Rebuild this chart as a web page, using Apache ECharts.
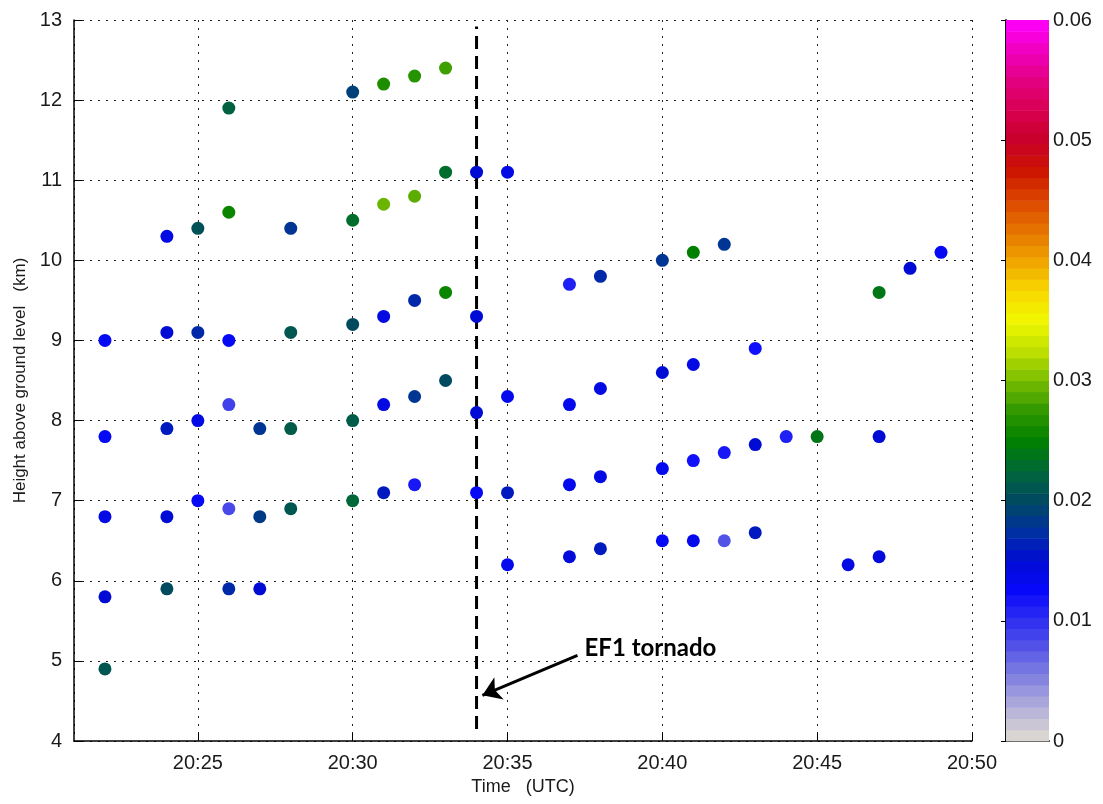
<!DOCTYPE html>
<html>
<head>
<meta charset="utf-8">
<script src="https://cdn.jsdelivr.net/npm/echarts@6/dist/echarts.min.js"></script>
<style>
html, body { margin: 0; padding: 0; background: #fff; }
#chart { width: 1103px; height: 804px; }
</style>
</head>
<body>
<div id="chart"></div>
<script>
// minutes after 20:00 UTC, height (km), colour value
var minutes = [22, 22, 22, 22, 22,
    24, 24, 24, 24, 24,
    25, 25, 25, 25,
    26, 26, 26, 26, 26, 26,
    27, 27, 27,
    28, 28, 28, 28,
    30, 30, 30, 30, 30,
    31, 31, 31, 31, 31,
    32, 32, 32, 32, 32,
    33, 33, 33, 33,
    34, 34, 34, 34,
    35, 35, 35, 35,
    37, 37, 37, 37,
    38, 38, 38, 38,
    40, 40, 40, 40,
    41, 41, 41, 41,
    42, 42, 42,
    43, 43, 43,
    44, 45, 46,
    47, 47, 47,
    48, 49];
var heights = [9.0, 7.8, 6.8, 5.8, 4.9,
    10.3, 9.1, 7.9, 6.8, 5.9,
    10.4, 9.1, 8.0, 7.0,
    11.9, 10.6, 9.0, 8.2, 6.9, 5.9,
    7.9, 6.8, 5.9,
    10.4, 9.1, 7.9, 6.9,
    12.1, 10.5, 9.2, 8.0, 7.0,
    12.2, 10.7, 9.3, 8.2, 7.1,
    12.3, 10.8, 9.5, 8.3, 7.2,
    12.4, 11.1, 9.6, 8.5,
    11.1, 9.3, 8.1, 7.1,
    11.1, 8.3, 7.1, 6.2,
    9.7, 8.2, 7.2, 6.3,
    9.8, 8.4, 7.3, 6.4,
    10.0, 8.6, 7.4, 6.5,
    10.1, 8.7, 7.5, 6.5,
    10.2, 7.6, 6.5,
    8.9, 7.7, 6.6,
    7.8, 7.8, 6.2,
    9.6, 7.8, 6.3,
    9.9, 10.1];
var values = [0.013, 0.013, 0.014, 0.015, 0.021,
    0.014, 0.015, 0.016, 0.015, 0.020,
    0.0205, 0.017, 0.014, 0.013,
    0.022, 0.0255, 0.013, 0.009, 0.0085, 0.017,
    0.018, 0.0185, 0.015,
    0.018, 0.021, 0.0215, 0.021,
    0.019, 0.023, 0.020, 0.0215, 0.0225,
    0.0265, 0.0295, 0.014, 0.014, 0.016,
    0.027, 0.029, 0.017, 0.018, 0.0115,
    0.028, 0.023, 0.0255, 0.020,
    0.015, 0.015, 0.015, 0.013,
    0.014, 0.0135, 0.016, 0.0135,
    0.011, 0.0135, 0.0135, 0.0145,
    0.017, 0.014, 0.014, 0.016,
    0.018, 0.015, 0.0135, 0.013,
    0.025, 0.014, 0.012, 0.0135,
    0.018, 0.0115, 0.008,
    0.012, 0.015, 0.016,
    0.011, 0.024, 0.014,
    0.024, 0.015, 0.0145,
    0.015, 0.013];

var timeTicks = [25, 30, 35, 40, 45, 50];
var tornadoTime = [34, 34];
var tornadoSpan = [4.15, 12.92];
var arrowFrom = [37.26, 5.07];
var arrowTo = [34.19, 4.57];

var colorStops = ['#e0ddd0', '#b8b4d8', '#8888e0', '#5a5ae6', '#3030f0', '#0808fc',
    '#000cd4', '#0030a0', '#004a60', '#006838', '#008000', '#309800', '#78bc00',
    '#c0e000', '#f0f800', '#f8d800', '#f0a400', '#e47400', '#dc4800', '#cc1400',
    '#c80028', '#d80050', '#e40082', '#f000c0', '#ff00ff'];

var scatterData = minutes.map(function (m, i) { return [m, heights[i], values[i]]; });

// colour bar bands
var nLevels = 64, cMax = 0.06;
var levels = [];
for (var k = 0; k < nLevels; k++) {
    var lo = cMax * k / nLevels, hi = cMax * (k + 1) / nLevels;
    levels.push([lo, hi, (lo + hi) / 2]);
}

var dom = document.getElementById('chart');
var myChart = echarts.init(dom);
var txt = '#1a1a1a';
var font = 'Liberation Sans';

var option = {
    backgroundColor: '#fff',
    animation: false,
    grid: [
        { left: 74, right: 131, top: 20, bottom: 63 },
        { left: 1006, width: 43, top: 20, bottom: 63, show: false }
    ],
    visualMap: {
        type: 'continuous',
        show: false,
        min: 0,
        max: cMax,
        dimension: 2,
        seriesIndex: [0, 1],
        inRange: { color: colorStops }
    },
    xAxis: [
        {
            type: 'value', gridIndex: 0, min: 21, max: 50,
            name: 'Time   (UTC)', nameLocation: 'middle', nameGap: 36,
            nameTextStyle: { fontSize: 18, color: txt, fontFamily: font },
            axisLine: { lineStyle: { color: '#000', width: 1.5 } },
            axisTick: { inside: true, length: 8, lineStyle: { color: '#000' } },
            axisLabel: {
                showMinLabel: false, fontSize: 20, color: txt, fontFamily: font, margin: 12,
                formatter: function (v) { return timeTicks.indexOf(v) >= 0 ? '20:' + v : ''; }
            },
            splitLine: { show: true, lineStyle: { color: '#222', width: 1, type: [2, 6] } }
        },
        {
            type: 'value', gridIndex: 1, min: 0, max: 1, position: 'bottom',
            axisLine: { lineStyle: { color: '#000', width: 1.5 } },
            axisTick: { show: false }, axisLabel: { show: false }, splitLine: { show: false }
        },
        {
            type: 'value', gridIndex: 1, min: 0, max: 1, position: 'top',
            axisLine: { lineStyle: { color: '#000', width: 1.5 } },
            axisTick: { show: false }, axisLabel: { show: false }, splitLine: { show: false }
        }
    ],
    yAxis: [
        {
            type: 'value', gridIndex: 0, min: 4, max: 13, interval: 1,
            name: 'Height above ground level   (km)', nameLocation: 'middle', nameGap: 44,
            nameTextStyle: { fontSize: 17, color: txt, fontFamily: font },
            axisLine: { lineStyle: { color: '#000', width: 1.5 } },
            axisTick: { inside: true, length: 8, lineStyle: { color: '#000' } },
            axisLabel: { fontSize: 20, color: txt, fontFamily: font, margin: 12 },
            splitLine: { show: true, lineStyle: { color: '#222', width: 1, type: [2, 6] } }
        },
        {
            type: 'value', gridIndex: 1, min: 0, max: cMax, interval: 0.01, position: 'right',
            axisLine: { show: true, lineStyle: { color: '#000', width: 1.5 } },
            axisTick: { inside: true, length: 5, lineStyle: { color: '#000' } },
            axisLabel: {
                fontSize: 20, color: txt, fontFamily: font, margin: 4,
                formatter: function (v) { return v === 0 ? '0' : v.toFixed(2); }
            },
            splitLine: { show: false }
        },
        {
            type: 'value', gridIndex: 1, min: 0, max: cMax, interval: 0.01, position: 'left',
            axisLine: { show: true, lineStyle: { color: '#000', width: 1.5 } },
            axisTick: { inside: true, length: 5, lineStyle: { color: '#000' } },
            axisLabel: { show: false },
            splitLine: { show: false }
        }
    ],
    series: [
        {
            type: 'scatter',
            xAxisIndex: 0, yAxisIndex: 0,
            symbol: 'circle',
            symbolSize: 13,
            itemStyle: { opacity: 1 },
            data: scatterData,
            z: 3
        },
        {
            type: 'custom',
            xAxisIndex: 1, yAxisIndex: 1,
            data: levels,
            renderItem: function (params, api) {
                var p0 = api.coord([0, api.value(0)]);
                var p1 = api.coord([1, api.value(1)]);
                return {
                    type: 'rect',
                    shape: { x: p0[0], y: p1[1], width: p1[0] - p0[0], height: p0[1] - p1[1] + 0.6 },
                    style: { fill: api.visual('color') }
                };
            },
            z: 1
        },
        {
            type: 'line',
            xAxisIndex: 0, yAxisIndex: 0,
            data: [[tornadoTime[0], tornadoSpan[0]], [tornadoTime[1], tornadoSpan[1]]],
            symbol: 'none',
            lineStyle: { color: '#000', width: 3, type: [13, 7] },
            z: 2
        },
        {
            type: 'scatter',
            xAxisIndex: 0, yAxisIndex: 0,
            symbolSize: 0,
            itemStyle: { opacity: 1 },
            data: [arrowFrom],
            label: {
                show: true,
                position: 'right',
                offset: [2, -7],
                formatter: 'EF1 tornado',
                fontFamily: 'Lato',
                fontWeight: 'bold',
                fontSize: 24,
                color: '#000'
            },
            markLine: {
                silent: true,
                symbol: ['none', 'arrow'],
                symbolSize: 18,
                label: { show: false },
                lineStyle: { color: '#000', width: 3, type: 'solid' },
                data: [[{ coord: arrowFrom }, { coord: arrowTo }]]
            },
            z: 5
        }
    ]
};

if (option && typeof option === 'object') {
    myChart.setOption(option, true);
}
</script>
</body>
</html>
